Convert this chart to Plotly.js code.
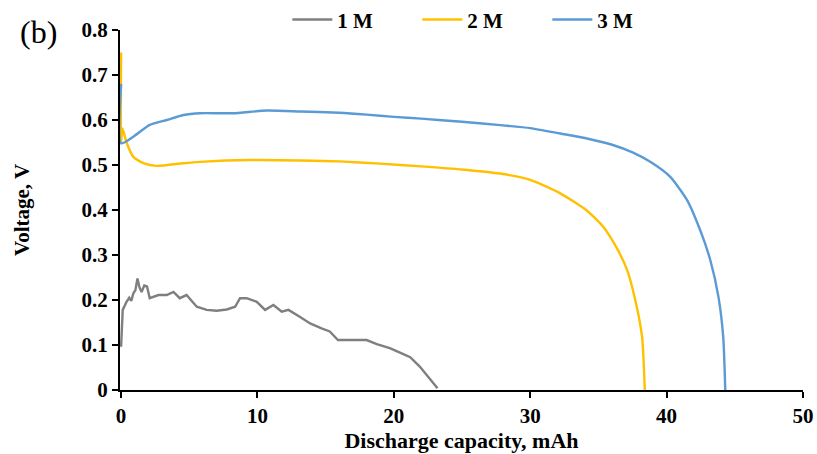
<!DOCTYPE html>
<html>
<head>
<meta charset="utf-8">
<script src="https://cdn.plot.ly/plotly-3.0.1.min.js"></script>
<style>html,body{margin:0;padding:0;background:#fff;}#chart{width:817px;height:454px;}</style>
</head>
<body>
<div id="chart"></div>
<script>
// 1 M series
const cap1M = [0, 0.12, 0.4, 0.6, 0.75, 0.9, 1.05, 1.2, 1.35, 1.5, 1.7, 1.9, 2.1, 2.74, 3.35, 3.84, 4.3, 4.8, 5.55, 6.28, 7.0, 7.75, 8.36, 8.72, 9.2, 9.95, 10.56, 11.17, 11.78, 12.27, 13.1, 13.86, 14.7, 15.3, 15.9, 16.5, 18.0, 18.75, 19.7, 20.45, 21.2, 21.9, 22.5, 23.2];
const volt1M = [0.096, 0.178, 0.196, 0.205, 0.198, 0.215, 0.222, 0.248, 0.228, 0.218, 0.232, 0.23, 0.204, 0.211, 0.211, 0.218, 0.204, 0.211, 0.185, 0.178, 0.176, 0.179, 0.185, 0.204, 0.204, 0.196, 0.178, 0.189, 0.174, 0.178, 0.163, 0.148, 0.137, 0.13, 0.111, 0.111, 0.111, 0.102, 0.093, 0.083, 0.073, 0.052, 0.03, 0.004];
// 2 M series
const cap2M = [0, 0, 0.1, 0.4, 0.9, 1.63, 2.6, 4.57, 5.8, 9.5, 13.1, 16, 19, 22, 25, 28, 30, 32.2, 34.1, 35.35, 36.3, 37.1, 37.7, 38.2, 38.4];
const volt2M = [0.75, 0.55, 0.581, 0.55, 0.518, 0.504, 0.498, 0.504, 0.507, 0.511, 0.51, 0.508, 0.503, 0.497, 0.49, 0.48, 0.467, 0.437, 0.40, 0.363, 0.318, 0.267, 0.2, 0.118, 0.0];
// 3 M series
const cap3M = [0, 0, 0.9, 2.1, 3.35, 4.57, 5.8, 8.2, 10.7, 13.1, 16, 18, 20, 22, 25, 28, 30, 32.2, 34, 36, 37.5, 38.8, 40.25, 41.5, 42.45, 43.2, 43.8, 44.15, 44.3];
const volt3M = [0.68, 0.548, 0.563, 0.589, 0.60, 0.611, 0.615, 0.615, 0.621, 0.619, 0.616, 0.612, 0.607, 0.603, 0.596, 0.588, 0.582, 0.570, 0.560, 0.545, 0.528, 0.507, 0.474, 0.422, 0.356, 0.289, 0.207, 0.118, 0.0];

const xTicks = [0, 10, 20, 30, 40, 50];
const yTicks = [0, 0.1, 0.2, 0.3, 0.4, 0.5, 0.6, 0.7, 0.8];
const seriesNames = ['1 M', '2 M', '3 M'];

const serif = 'Liberation Serif, Times New Roman, serif';
const traces = [
  {x: cap1M, y: volt1M, name: seriesNames[0], mode: 'lines', line: {color: '#7f7f7f', width: 2.4}},
  {x: cap2M, y: volt2M, name: seriesNames[1], mode: 'lines', line: {color: '#ffc000', width: 2.4, shape: 'spline', smoothing: 0.6}},
  {x: cap3M, y: volt3M, name: seriesNames[2], mode: 'lines', line: {color: '#5b9bd5', width: 2.4, shape: 'spline', smoothing: 0.6}}
];
const layout = {
  width: 817, height: 454,
  margin: {l: 119.9, r: 14, t: 30, b: 64, autoexpand: false},
  paper_bgcolor: '#fff', plot_bgcolor: '#fff',
  font: {family: serif, color: '#000'},
  showlegend: true,
  legend: {orientation: 'h', x: 0.245, xanchor: 'left', y: 1.028, yanchor: 'middle',
           itemwidth: 40, entrywidth: 75, entrywidthmode: 'pixels',
           font: {family: serif, size: 21, color: '#000', weight: 'bold'}},
  xaxis: {range: [-0.08, 50], tickvals: xTicks, ticktext: xTicks.map(String), automargin: false, layer: 'below traces',
          showline: true, linecolor: '#000', linewidth: 2, zeroline: false, showgrid: false,
          ticks: 'outside', ticklen: 6, tickwidth: 2, tickcolor: '#000',
          tickfont: {family: serif, size: 21, weight: 'bold'},
          title: {text: 'Discharge capacity, mAh', font: {family: serif, size: 22, weight: 'bold'}, standoff: 2}},
  yaxis: {range: [0, 0.8], tickvals: yTicks, ticktext: yTicks.map(v => v === 0 ? '0' : v.toFixed(1)), automargin: false, layer: 'below traces',
          showline: true, linecolor: '#000', linewidth: 2, zeroline: false, showgrid: false,
          ticks: 'outside', ticklen: 6, tickwidth: 2, tickcolor: '#000',
          tickfont: {family: serif, size: 21, weight: 'bold'},
          title: {text: 'Voltage, V', font: {family: serif, size: 21, weight: 'bold'}, standoff: 46}},
  annotations: [{text: '(b)', xref: 'paper', yref: 'paper', x: -0.12, y: 0.994, xanchor: 'center', yanchor: 'middle',
                 showarrow: false, font: {family: serif, size: 32, color: '#000'}}]
};
Plotly.newPlot('chart', traces, layout, {displayModeBar: false});
</script>
</body>
</html>
